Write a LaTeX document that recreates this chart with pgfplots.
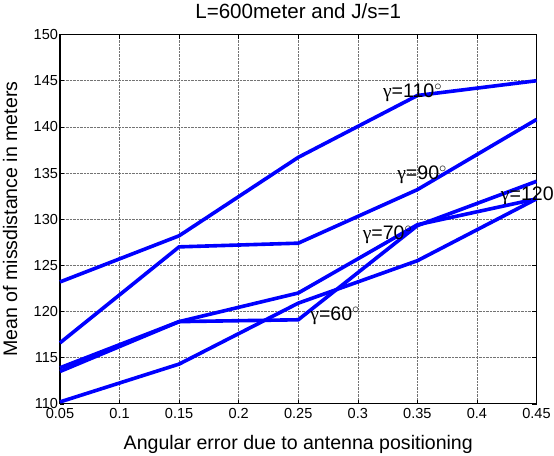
\documentclass[border=0pt]{standalone}
\usepackage{fontspec}
\setmainfont{Liberation Sans}
\newfontfamily\grfont{Liberation Serif}
\usepackage{pgfplots}
\pgfplotsset{compat=1.18}
\begin{document}
\begin{tikzpicture}
\begin{axis}[
  scale only axis,
  width=475pt, height=368pt,
  xmin=0.05, xmax=0.45, ymin=110, ymax=150,
  xtick={0.05,0.1,0.15,0.2,0.25,0.3,0.35,0.4,0.45},
  xticklabels={0.05,0.1,0.15,0.2,0.25,0.3,0.35,0.4,0.45},
  ytick={110,115,120,125,130,135,140,145,150},
  yticklabels={110,115,120,125,130,135,140,145,150},
  tick pos=both, tick align=inside,
  major tick length=4pt,
  tick style={black, line width=0.5pt},
  ticklabel style={font=\fontsize{14.5}{17}\selectfont},
  xticklabel style={yshift=-1pt},
  yticklabel style={xshift=1.5pt},
  grid=major,
  major grid style={densely dotted, black!55, line width=0.6pt},
  axis line style={black, line width=1.2pt},
  title={L=600meter and J/s=1},
  title style={font=\fontsize{20.5}{22}\selectfont, at={(axis description cs:0.5,1)}, anchor=base, yshift=10.3pt},
  xlabel={Angular error due to antenna positioning},
  ylabel={Mean of missdistance in meters},
  label style={font=\fontsize{19.5}{21}\selectfont},
  xlabel style={at={(axis description cs:0.5,0)}, anchor=base, inner sep=2pt, yshift=-46pt},
  ylabel style={at={(axis description cs:0,0.5)}, anchor=south, inner sep=3pt, yshift=39.3pt},
  clip=false,
]
\addplot[blue, line width=3.6pt] coordinates {(0.05,123.2) (0.15,128.2) (0.25,136.7) (0.35,143.4) (0.45,145.0)};
\addplot[blue, line width=3.6pt] coordinates {(0.05,116.6) (0.15,127.0) (0.25,127.4) (0.35,133.2) (0.45,140.8)};
\addplot[blue, line width=3.6pt] coordinates {(0.05,113.9) (0.15,118.9) (0.25,122.0) (0.35,129.4) (0.45,132.2)};
\addplot[blue, line width=3.6pt] coordinates {(0.05,113.5) (0.15,118.9) (0.25,119.1) (0.35,129.3) (0.45,134.1)};
\addplot[blue, line width=3.6pt] coordinates {(0.05,110.2) (0.15,114.3) (0.25,120.9) (0.35,125.5) (0.45,132.2)};
\node[anchor=west, inner sep=0pt, font=\fontsize{19.5}{21}\selectfont] at (axis cs:0.321,143.7) {{\grfont γ}=110$^{\circ}$};
\node[anchor=west, inner sep=0pt, font=\fontsize{19.5}{21}\selectfont] at (axis cs:0.333,134.8) {{\grfont γ}=90$^{\circ}$};
\node[anchor=west, inner sep=0pt, font=\fontsize{19.5}{21}\selectfont] at (axis cs:0.304,128.3) {{\grfont γ}=70$^{\circ}$};
\node[anchor=west, inner sep=0pt, font=\fontsize{19.5}{21}\selectfont] at (axis cs:0.260,119.5) {{\grfont γ}=60$^{\circ}$};
\node[anchor=west, inner sep=0pt, font=\fontsize{19.5}{21}\selectfont] at (axis cs:0.420,132.5) {{\grfont γ}=120};
\end{axis}
\end{tikzpicture}
\end{document}
